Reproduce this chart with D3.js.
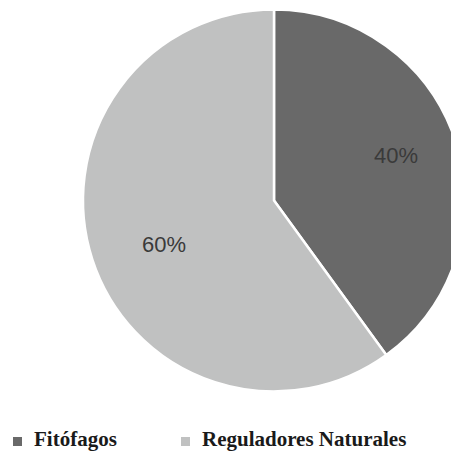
<!DOCTYPE html>
<html>
<head>
<meta charset="utf-8">
<script src="https://cdn.jsdelivr.net/npm/d3@7"></script>
<style>
  html, body { margin: 0; padding: 0; background: #ffffff; overflow: hidden; }
  svg { display: block; }
</style>
</head>
<body>
<svg id="chart" width="451" height="451"></svg>
<script>
const categories = ["Fitófagos", "Reguladores Naturales"];
const values = [40, 60];
const labels = ["40%", "60%"];
const colors = ["#696969", "#c0c1c1"];

const svg = d3.select("#chart");
const cx = 274, cy = 200.5, R = 191;

const pie = d3.pie().sort(null).value(d => d.value);
const data = pie(categories.map((c, i) => ({ cat: c, value: values[i], label: labels[i] })));

const arc = d3.arc().innerRadius(0).outerRadius(R);
const labelArc = d3.arc().innerRadius(248).outerRadius(0);

const g = svg.append("g").attr("transform", `translate(${cx},${cy})`);

g.selectAll("path.slice")
  .data(data)
  .enter()
  .append("path")
  .attr("class", "slice")
  .attr("d", arc)
  .attr("fill", (d, i) => colors[i])
  .attr("stroke", "#ffffff")
  .attr("stroke-width", 2.5)
  .attr("stroke-linejoin", "round");

g.selectAll("text.lbl")
  .data(data)
  .enter()
  .append("text")
  .attr("class", "lbl")
  .attr("transform", d => {
    const c = labelArc.centroid(d);
    return `translate(${c[0] + (d.index === 0 ? 4 : 8)},${c[1] + (d.index === 0 ? -7 : 6)})`;
  })
  .attr("text-anchor", "middle")
  .attr("dominant-baseline", "central")
  .attr("font-family", "Liberation Sans, Arial, sans-serif")
  .attr("font-size", 22)
  .attr("fill", "#3a3a3a")
  .text(d => d.data.label);

// Legend
const legendX = [13, 181];
const legend = svg.append("g");
categories.forEach((c, i) => {
  legend.append("rect")
    .attr("x", legendX[i])
    .attr("y", 437)
    .attr("width", 9)
    .attr("height", 9)
    .attr("fill", colors[i]);
  legend.append("text")
    .attr("x", legendX[i] + 21)
    .attr("y", 446)
    .attr("font-family", "Liberation Serif, Times New Roman, serif")
    .attr("font-weight", "bold")
    .attr("font-size", 21)
    .attr("fill", "#1a1a1a")
    .text(c);
});
</script>
</body>
</html>
